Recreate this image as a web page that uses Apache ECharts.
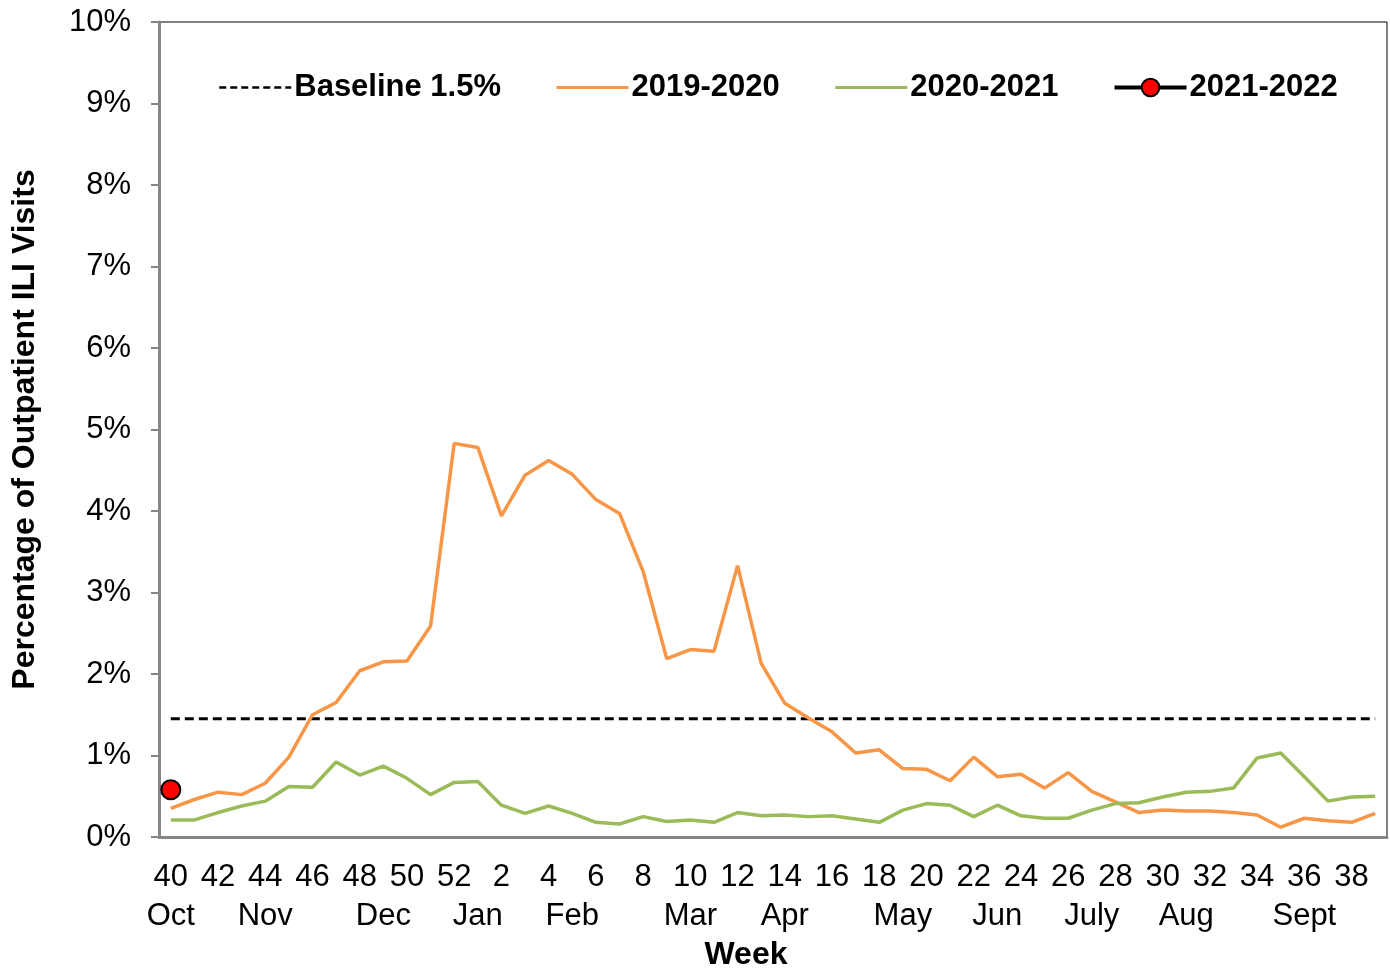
<!DOCTYPE html>
<html>
<head>
<meta charset="utf-8">
<script src="https://cdn.jsdelivr.net/npm/echarts@6/dist/echarts.min.js"></script>
<style>
  html, body { margin: 0; padding: 0; background: #fff; }
  #chart { width: 1390px; height: 968px; }
</style>
</head>
<body>
<div id="chart"></div>
<script>
// weeks of the flu season, 40..52 then 1..39
var weeks = ['40','41','42','43','44','45','46','47','48','49','50','51','52',
  '1','2','3','4','5','6','7','8','9','10','11','12','13','14','15','16','17','18','19',
  '20','21','22','23','24','25','26','27','28','29','30','31','32','33','34','35','36','37','38','39']

// month label shown under the first week of each month
var monthWeeks = ['40','44','49','1','5','10','14','19','23','27','31','36']
var monthNames = ['Oct','Nov','Dec','Jan','Feb','Mar','Apr','May','Jun','July','Aug','Sept']

var baseline = 1.45

var season1920 = [0.35,0.46,0.55,0.52,0.66,0.98,1.50,1.65,2.04,2.15,
  2.16,2.59,4.83,4.78,3.94,4.44,4.62,4.45,4.14,3.97,
  3.26,2.19,2.30,2.28,3.33,2.13,1.64,1.46,1.29,1.03,
  1.07,0.84,0.83,0.69,0.98,0.74,0.77,0.60,0.79,0.56,
  0.43,0.30,0.33,0.32,0.32,0.30,0.27,0.12,0.23,0.20,
  0.18,0.29]

var season2021 = [0.21,0.21,0.30,0.38,0.44,0.62,0.61,0.92,0.76,0.87,
  0.72,0.52,0.67,0.68,0.39,0.29,0.38,0.29,0.18,0.16,
  0.25,0.19,0.21,0.18,0.30,0.26,0.27,0.25,0.26,0.22,
  0.18,0.33,0.41,0.39,0.25,0.39,0.26,0.23,0.23,0.33,
  0.41,0.42,0.49,0.55,0.56,0.60,0.97,1.03,0.74,0.44,
  0.49,0.50]

var season2122 = [0.58]

var font = 'Liberation Sans, Arial, sans-serif'
var gray = '#868686'

var myChart = echarts.init(document.getElementById('chart'))
myChart.setOption({
  animation: false,
  textStyle: { fontFamily: font },
  grid: {
    left: 159, right: 3, top: 22, bottom: 131,
    outerBoundsMode: 'none',
    show: true, borderColor: '#000', borderWidth: 1
  },
  legend: {
    left: 213, top: 67,
    itemWidth: 72, itemHeight: 22, itemGap: 54,
    textStyle: { fontSize: 31, fontWeight: 'bold', color: '#000', fontFamily: font, padding: [0, 0, 0, -2] },
    data: [
      { name: 'Baseline 1.5%', itemStyle: { opacity: 0 }, lineStyle: { width: 2.5, type: [7, 4] } },
      { name: '2019-2020', itemStyle: { opacity: 0 }, lineStyle: { width: 3 } },
      { name: '2020-2021', itemStyle: { opacity: 0 }, lineStyle: { width: 3 } },
      { name: '2021-2022', lineStyle: { width: 4 } }
    ]
  },
  xAxis: [
    {
      type: 'category',
      data: weeks,
      boundaryGap: true,
      axisLine: { lineStyle: { color: gray, width: 3 } },
      axisTick: { interval: 0, length: 8, lineStyle: { color: gray, width: 2 } },
      axisLabel: { interval: 1, margin: 25, fontSize: 31, color: '#000' },
      name: 'Week',
      nameLocation: 'middle',
      nameGap: 102,
      nameTextStyle: { fontSize: 32, fontWeight: 'bold', color: '#000', padding: [0, 54, 0, 0] }
    },
    {
      type: 'category',
      data: weeks,
      position: 'bottom',
      boundaryGap: true,
      axisLine: { show: false },
      axisTick: { show: false },
      axisLabel: {
        interval: 0, margin: 64, fontSize: 31, color: '#000',
        formatter: function (w) {
          var k = monthWeeks.indexOf(w)
          return k >= 0 ? monthNames[k] : ''
        }
      }
    }
  ],
  yAxis: {
    type: 'value',
    min: 0, max: 10, interval: 1,
    splitLine: { show: false },
    axisLine: { show: true, lineStyle: { color: gray, width: 3 } },
    axisTick: { show: true, length: 8, lineStyle: { color: gray, width: 2 } },
    axisLabel: { margin: 28, fontSize: 31, color: '#000', formatter: '{value}%' },
    name: 'Percentage of Outpatient ILI Visits',
    nameLocation: 'middle',
    nameGap: 118,
    nameTextStyle: { fontSize: 32, fontWeight: 'bold', color: '#000' }
  },
  series: [
    {
      name: 'Baseline 1.5%',
      type: 'line',
      symbol: 'none',
      data: weeks.map(function () { return baseline }),
      lineStyle: { color: '#000', width: 3, type: [9, 5] },
      itemStyle: { color: '#000' }
    },
    {
      name: '2019-2020',
      type: 'line',
      symbol: 'none',
      data: season1920,
      lineStyle: { color: '#F79646', width: 3.5 },
      itemStyle: { color: '#F79646' }
    },
    {
      name: '2020-2021',
      type: 'line',
      symbol: 'none',
      data: season2021,
      lineStyle: { color: '#9BBB59', width: 3.5 },
      itemStyle: { color: '#9BBB59' }
    },
    {
      name: '2021-2022',
      type: 'line',
      symbol: 'circle',
      symbolSize: 19,
      data: season2122,
      lineStyle: { color: '#000', width: 3 },
      itemStyle: { color: '#FF0000', borderColor: '#000', borderWidth: 2 }
    }
  ]
})
</script>
</body>
</html>
